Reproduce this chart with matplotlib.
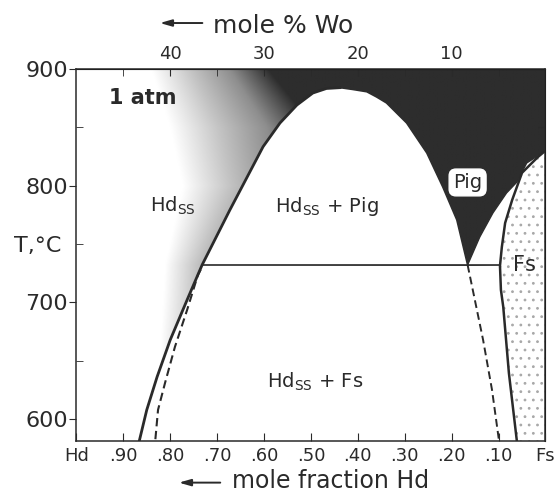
import numpy as np
import matplotlib
matplotlib.use('Agg')
import matplotlib.pyplot as plt
from matplotlib.colors import LinearSegmentedColormap

# x = mole fraction Hd (1 = Hd on the left, 0 = Fs on the right), y = T in deg C
hd_solvus_X = [0.866, 0.850, 0.828, 0.800, 0.764, 0.732, 0.673, 0.602, 0.566, 0.530, 0.496, 0.467, 0.438]
hd_solvus_T = [581, 607.7, 636, 667.7, 702, 732, 779, 833.4, 853.7, 869.1, 879.4, 883.3, 884]

pig_limb_X = [0.438, 0.410, 0.381, 0.360, 0.339, 0.296, 0.253, 0.219, 0.189, 0.166]
pig_limb_T = [884, 882.4, 880.5, 876, 870.9, 853.7, 828, 798.9, 770.6, 732]

pig_fs_X = [0.166, 0.140, 0.112, 0.083, 0.061, 0.040, 0.007, 0.0]
pig_fs_T = [732, 756, 776.6, 793.7, 803, 819.4, 828, 832]

fs_X = [0.0, 0.016, 0.050, 0.071, 0.086, 0.093, 0.097, 0.095, 0.090, 0.078, 0.061]
fs_T = [830, 824.6, 811, 787.7, 768, 747.4, 731.2, 710.6, 696, 639.4, 581]

# metastable (dashed) extensions below the three-phase line
hd_meta_X = [0.735, 0.741, 0.764, 0.790, 0.811, 0.826, 0.832]
hd_meta_T = [728, 723.4, 693.4, 661.7, 630.9, 607.7, 581]
pig_meta_X = [0.166, 0.155, 0.133, 0.114, 0.099]
pig_meta_T = [732, 710.6, 667.7, 624.9, 581]

T_3phase = 732
tie_X = [0.732, 0.097]

# grey shading of Hd_ss grading into Pig: white edge and width to full black
shade_T = [581, 640, 670, 700, 732, 800, 850, 900]
shade_x0 = [0.80, 0.82, 0.82, 0.815, 0.811, 0.773, 0.80, 0.84]
shade_w = [0.20, 0.20, 0.20, 0.20, 0.20, 0.30, 0.31, 0.25]

x_ticks = [1.0, 0.9, 0.8, 0.7, 0.6, 0.5, 0.4, 0.3, 0.2, 0.1, 0.0]
x_labels = ['Hd', '.90', '.80', '.70', '.60', '.50', '.40', '.30', '.20', '.10', 'Fs']
wo_ticks = [0.8, 0.6, 0.4, 0.2]
wo_labels = ['40', '30', '20', '10']
wo_minor = [0.9, 0.7, 0.5, 0.3, 0.1]
T_ticks = [600, 700, 800, 900]
T_minor = [650, 750, 850]

ink = '#2a2a2a'
dark = '#2d2d2d'
plt.rcParams['hatch.linewidth'] = 0.8

fig = plt.figure(figsize=(5.59, 4.95), dpi=100)
ax = fig.add_axes([0.1367, 0.1091, 0.8391, 0.7515])

# shaded single-pyroxene field
Xg = np.linspace(1, 0, 600)
Tg = np.linspace(581, 900, 400)
x0 = np.interp(Tg, shade_T, shade_x0)[:, None]
w = np.interp(Tg, shade_T, shade_w)[:, None]
d = np.clip((x0 - Xg[None, :]) / w, 0, 1)
cmap = LinearSegmentedColormap.from_list('shade', ['white', '#c4c4c4', '#8e8e8e', dark], N=256)
ax.imshow(d, extent=[1, 0, 581, 900], origin='lower', cmap=cmap, vmin=0, vmax=1,
          aspect='auto', interpolation='bilinear', zorder=0)

# Hd_ss + Pig dome
dome_X = hd_solvus_X[5:] + pig_limb_X[1:]
dome_T = hd_solvus_T[5:] + pig_limb_T[1:]
ax.fill(dome_X, dome_T, color='white', lw=0, zorder=1)

# Hd_ss + Fs below the three-phase line
low_X = hd_solvus_X[5::-1] + fs_X[:5:-1]
low_T = hd_solvus_T[5::-1] + fs_T[:5:-1]
ax.fill(low_X, low_T, color='white', lw=0, zorder=1)

# Pig + Fs sliver
sl_X = pig_fs_X + fs_X[:7]
sl_T = pig_fs_T + fs_T[:7]
ax.fill(sl_X, sl_T, color='white', lw=0, zorder=1)

# Fs field (stippled)
ax.fill(fs_X + [0.0], fs_T + [581], facecolor='white', edgecolor='#a8a8a8',
        hatch='..', lw=0, zorder=1)

ax.plot(hd_solvus_X, hd_solvus_T, color=ink, lw=2.0, zorder=3)
ax.plot(pig_limb_X, pig_limb_T, color=dark, lw=1.2, zorder=3)
ax.plot(pig_fs_X, pig_fs_T, color=dark, lw=1.0, zorder=3)
ax.plot(fs_X, fs_T, color=ink, lw=1.8, zorder=3)
ax.plot(tie_X, [T_3phase, T_3phase], color=ink, lw=1.2, zorder=3)
ax.plot(hd_meta_X, hd_meta_T, color=ink, lw=1.5, ls=(0, (4, 2.2)), zorder=3)
ax.plot(pig_meta_X, pig_meta_T, color=ink, lw=1.4, ls=(0, (4, 2.2)), zorder=3)

ax.set_xlim(1, 0)
ax.set_ylim(581, 900)

# labels inside the diagram
ax.text(0.858, 875, '1 atm', fontsize=15, fontweight='bold', color=ink,
        ha='center', va='center', zorder=4)
ax.text(0.794, 782.6, r'Hd$_{\rm SS}$', fontsize=14, color=ink, ha='center', va='center', zorder=4)
ax.text(0.467, 782, r'Hd$_{\rm SS}$ + Pig', fontsize=14, color=ink, ha='center', va='center', zorder=4)
ax.text(0.491, 631.7, r'Hd$_{\rm SS}$ + Fs', fontsize=14, color=ink, ha='center', va='center', zorder=4)
ax.text(0.166, 802.7, 'Pig', fontsize=14, color=ink, ha='center', va='center', zorder=4,
        bbox=dict(boxstyle='round,pad=0.2,rounding_size=0.35', fc='white', ec='white'))
ax.text(0.0456, 732, 'Fs', fontsize=15, color=ink, ha='center', va='center', zorder=4)
ax.text(-0.082, 748.3, 'T,°C', fontsize=16, color=ink, ha='center', va='center',
        transform=ax.get_yaxis_transform())

# axes and ticks
for s in ax.spines.values():
    s.set_color(ink)
    s.set_linewidth(1.1)

ax.set_xticks(x_ticks, labels=x_labels)
ax.tick_params(axis='x', direction='in', length=6, labelsize=13, pad=4, colors=ink)
ax.set_yticks(T_ticks)
ax.set_yticks(T_minor, minor=True)
ax.tick_params(axis='y', which='major', direction='out', length=5, labelsize=16, pad=1, colors=ink)
ax.tick_params(axis='y', which='minor', direction='in', length=5, colors=ink)

secx = ax.secondary_xaxis('top')
secx.set_xticks(wo_ticks, labels=wo_labels)
secx.set_xticks(wo_minor, minor=True)
secx.tick_params(which='both', direction='in', length=5, labelsize=13, pad=4, colors=ink)

secy = ax.secondary_yaxis('right')
secy.set_yticks([650, 700, 750, 800, 850])
secy.tick_params(direction='in', length=5, labelright=False, colors=ink)

# axis titles with arrows
fig.text(0.381, 0.9333, 'mole % Wo', fontsize=18, color=ink, ha='left', va='baseline')
ax.annotate('', xy=(0.281, 0.9535), xytext=(0.367, 0.9535), xycoords='figure fraction',
            arrowprops=dict(arrowstyle='-|>,head_length=0.7,head_width=0.2', color=ink, lw=1.4))
fig.text(0.415, 0.014, 'mole fraction Hd', fontsize=17, color=ink, ha='left', va='baseline')
ax.annotate('', xy=(0.315, 0.025), xytext=(0.399, 0.025), xycoords='figure fraction',
            arrowprops=dict(arrowstyle='-|>,head_length=0.7,head_width=0.2', color=ink, lw=1.4))

fig.savefig('out.png', dpi=100)
